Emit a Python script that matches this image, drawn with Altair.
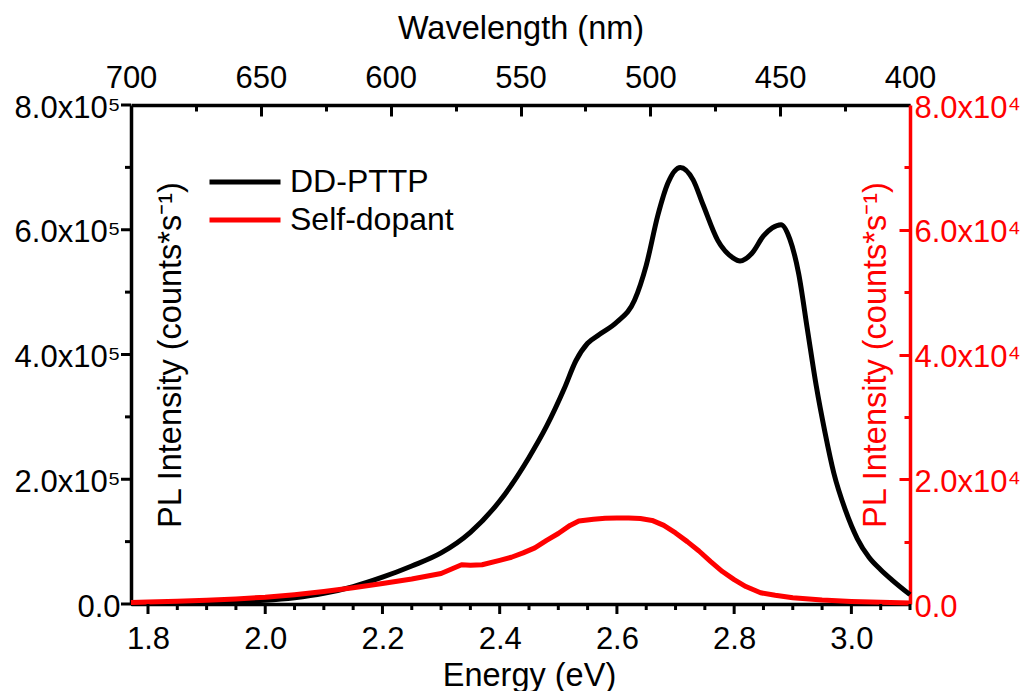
import altair as alt
import pandas as pd

FONT = "Liberation Sans"

# DD-PTTP (left axis)
energy_dd = [1.771, 1.80, 1.85, 1.90, 1.95, 2.00, 2.05, 2.10, 2.15, 2.20, 2.25, 2.30, 2.35, 2.40,
             2.45, 2.48, 2.51, 2.53, 2.55, 2.57, 2.60, 2.63, 2.65, 2.67, 2.687, 2.708, 2.73, 2.747,
             2.772, 2.798, 2.81, 2.83, 2.85, 2.865, 2.88, 2.895, 2.91, 2.925, 2.94, 2.955, 2.97,
             2.99, 3.01, 3.03, 3.05, 3.07, 3.10]
pl_dd = [800, 1200, 2000, 3000, 4200, 6000, 10000, 17000, 28000, 43000, 61000, 82000, 115000,
         165000, 235000, 285000, 345000, 390000, 418000, 432000, 452000, 487000, 543000, 624000,
         675000, 700000, 680000, 640000, 583000, 555000, 550000, 562000, 590000, 603000, 608000,
         585000, 530000, 440000, 350000, 275000, 210000, 150000, 105000, 75000, 55000, 38000, 15000]

# Self-dopant (right axis)
energy_sd = [1.771, 1.80, 1.85, 1.90, 1.95, 2.00, 2.05, 2.10, 2.15, 2.20, 2.25, 2.30, 2.32, 2.335,
             2.35, 2.37, 2.40, 2.42, 2.44, 2.46, 2.48, 2.50, 2.52, 2.535, 2.56, 2.58, 2.60, 2.62,
             2.64, 2.66, 2.68, 2.70, 2.72, 2.74, 2.76, 2.78, 2.80, 2.82, 2.845, 2.87, 2.90, 2.95,
             3.00, 3.05, 3.10]
pl_sd = [250, 320, 450, 620, 820, 1100, 1500, 2000, 2600, 3300, 4000, 4900, 5700, 6300, 6200,
         6300, 7000, 7500, 8200, 9000, 10200, 11300, 12600, 13300, 13600, 13750, 13800, 13800,
         13700, 13400, 12600, 11400, 10000, 8500, 6800, 5200, 3900, 2800, 1800, 1400, 1000, 650,
         420, 280, 180]

series_names = ["DD-PTTP", "Self-dopant"]
series_colors = ["#000000", "#ff0000"]

energy_major = [1.8, 2.0, 2.2, 2.4, 2.6, 2.8, 3.0]
energy_minor = [1.85, 1.9, 1.95, 2.05, 2.1, 2.15, 2.25, 2.3, 2.35, 2.45, 2.5, 2.55, 2.65, 2.7,
                2.75, 2.85, 2.9, 2.95, 3.05, 3.1]
wl_major = [700, 650, 600, 550, 500, 450, 400]
wl_minor = [675, 625, 575, 525, 475, 425]
left_major = [0, 200000, 400000, 600000, 800000]
left_minor = [100000, 300000, 500000, 700000]
right_major = [0, 20000, 40000, 60000, 80000]
right_minor = [10000, 30000, 50000, 70000]

W, H = 779, 499
LABEL_SIZE = 31
TITLE_SIZE = 32.5
E_DOMAIN = [1.771, 3.1]
L_DOMAIN = [0, 800000]
R_DOMAIN = [0, 80000]

df_dd = pd.DataFrame({"energy": energy_dd, "pl": pl_dd, "series": series_names[0]})
df_sd = pd.DataFrame({"energy": energy_sd, "pl": pl_sd, "series": series_names[1]})
df_wl = pd.DataFrame({"wavelength": wl_major + wl_minor})
df_e_major = pd.DataFrame({"energy": energy_major})
df_e_minor = pd.DataFrame({"energy": energy_minor})
df_l_major = pd.DataFrame({"pl": left_major})
df_l_minor = pd.DataFrame({"pl": left_minor})

color = alt.Color(
    "series:N",
    scale=alt.Scale(domain=series_names, range=series_colors),
    legend=alt.Legend(
        title=None, orient="none", legendX=98, legendY=61, padding=0,
        symbolType="M-3.55,0H3.55", symbolSize=400, symbolStrokeWidth=5,
        labelFontSize=32, labelFont=FONT, labelColor="black", labelOffset=29, rowPadding=6,
        labelLimit=400,
    ),
)

x_energy = alt.X(
    "energy:Q",
    scale=alt.Scale(domain=E_DOMAIN, nice=False, zero=False),
    axis=alt.Axis(
        orient="bottom", title="Energy (eV)",
        values=energy_major,
        labelExpr="format(datum.value, '.1f')",
        ticks=True, tickSize=7, tickOpacity=0,
        domainColor="black", domainWidth=3.5,
        labelFont=FONT, labelFontSize=LABEL_SIZE, labelColor="black", labelPadding=37,
        labelBaseline="alphabetic", labelFlush=False, labelOverlap=False,
        titleFont=FONT, titleFontSize=TITLE_SIZE, titleFontWeight="normal", titleColor="black",
        titleX=398, titleY=81, titleBaseline="alphabetic", grid=False,
    ),
)

y_left = alt.Y(
    "pl:Q",
    scale=alt.Scale(domain=L_DOMAIN, nice=False),
    axis=alt.Axis(
        orient="left", title="PL Intensity (counts*s⁻¹)",
        values=left_major,
        labelExpr="datum.value == 0 ? '0.0' : format(datum.value/100000, '.1f') + 'x10⁵'",
        ticks=True, tickSize=8, tickOpacity=0,
        domainColor="black", domainWidth=3.5,
        labelFont=FONT, labelFontSize=LABEL_SIZE, labelColor="black", labelPadding=3,
        labelOffset=3, labelFlush=False, labelOverlap=False,
        titleFont=FONT, titleFontSize=TITLE_SIZE, titleFontWeight="normal", titleColor="black",
        titleX=39, titleAngle=270, titleBaseline="middle", grid=False,
    ),
)

y_right = alt.Y(
    "pl:Q",
    scale=alt.Scale(domain=R_DOMAIN, nice=False),
    axis=alt.Axis(
        orient="right", title="PL Intensity (counts*s⁻¹)",
        values=right_major + right_minor,
        labelExpr="datum.value % 20000 == 0 ? (datum.value == 0 ? '0.0' : format(datum.value/10000, '.1f') + 'x10⁴') : ''",
        ticks=False, domainColor="red", domainWidth=3.5,
        grid=True, gridColor="red", gridWidth=3,
        gridDash={"condition": {"test": "datum.value % 20000 == 0", "value": [11, 2000]}, "value": [6, 2000]},
        labelFont=FONT, labelFontSize=LABEL_SIZE, labelColor="red", labelPadding=4,
        labelOffset=3, labelFlush=False, labelOverlap=False,
        titleFont=FONT, titleFontSize=TITLE_SIZE, titleFontWeight="normal", titleColor="red",
        titleX=-35, titleAngle=270, titleBaseline="middle",
    ),
)

black_line = alt.Chart(df_dd).mark_line(strokeWidth=5, interpolate="monotone", strokeJoin="round").encode(
    x=x_energy, y=y_left, color=color
)
red_line = alt.Chart(df_sd).mark_line(strokeWidth=5, strokeJoin="round").encode(
    x="energy:Q", y=y_right, color=color
)

top_axis = alt.Chart(df_wl).mark_point(opacity=0).encode(
    x=alt.X(
        "wavelength:Q",
        scale=alt.Scale(domain=[700, 400], nice=False, zero=False),
        axis=alt.Axis(
            orient="top", title="Wavelength (nm)",
            values=wl_major + wl_minor,
            labelExpr="datum.value % 50 == 0 ? format(datum.value, 'd') : ''",
            ticks=False, domainColor="black", domainWidth=3.5,
            grid=True, gridColor="black", gridWidth=3,
            gridDash={"condition": {"test": "datum.value % 50 == 0", "value": [11, 2000]}, "value": [6, 2000]},
            gridOpacity={"condition": {"test": "datum.value == 400 || datum.value == 700", "value": 0}, "value": 1},
            labelFont=FONT, labelFontSize=LABEL_SIZE, labelColor="black", labelPadding=18,
            labelBaseline="alphabetic", labelFlush=False, labelOverlap=False,
            titleFont=FONT, titleFontSize=TITLE_SIZE, titleFontWeight="normal", titleColor="black",
            titleY=-67, titleBaseline="alphabetic",
        ),
    )
)

# outward tick marks (major and minor) of the bottom energy axis and the left axis
def x_ticks(df, length):
    return alt.Chart(df).mark_rule(color="black", strokeWidth=3).encode(
        x=alt.X("energy:Q", scale=alt.Scale(domain=E_DOMAIN, nice=False, zero=False), axis=None),
        y=alt.value(H), y2=alt.value(H + length),
    )

def y_ticks(df, length):
    return alt.Chart(df).mark_rule(color="black", strokeWidth=3).encode(
        y=alt.Y("pl:Q", scale=alt.Scale(domain=L_DOMAIN, nice=False), axis=None),
        x=alt.value(0), x2=alt.value(-length),
    )

inner = alt.layer(black_line, red_line).resolve_scale(y="independent")
chart = alt.layer(
    inner, top_axis,
    x_ticks(df_e_major, 10), x_ticks(df_e_minor, 6),
    y_ticks(df_l_major, 10), y_ticks(df_l_minor, 6),
).resolve_scale(x="independent", y="independent").properties(
    width=W, height=H,
    autosize=alt.AutoSizeParams(type="none"),
    padding={"left": 131, "top": 105, "right": 115, "bottom": 87},
    background="white",
).configure_view(stroke=None)

chart.save("out.html", embed_options={"renderer": "svg", "actions": False})
